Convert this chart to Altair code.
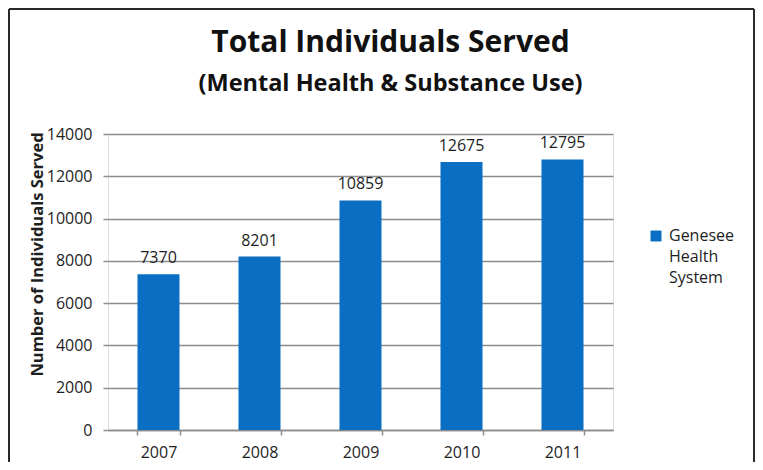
import altair as alt
import pandas as pd

years = ["2007", "2008", "2009", "2010", "2011"]
served = [7370, 8201, 10859, 12675, 12795]
series_name = "Genesee Health System"
y_ticks = [0, 2000, 4000, 6000, 8000, 10000, 12000, 14000]

df = pd.DataFrame({"year": years, "served": served, "series": [series_name] * len(years)})
frame_df = pd.DataFrame({"k": [0]})

W, H = 505, 296
FONT = "Open Sans"
GRID = "#8c8c8c"
TXT = "#1e1e1e"
BLUE = "#0a6fc2"

x_enc = alt.X(
    "year:N", sort=years, title=None,
    scale=alt.Scale(paddingInner=0.584, paddingOuter=0.292),
    axis=alt.Axis(labelAngle=0, tickBand="extent", domainColor=GRID, domainWidth=1.5,
                  tickColor=GRID, tickWidth=1.5, tickSize=5, labelPadding=9,
                  labelFont=FONT, labelFontSize=16, labelColor=TXT, grid=False),
)
y_enc = alt.Y(
    "served:Q", scale=alt.Scale(domain=[0, 14000], nice=False),
    axis=alt.Axis(values=y_ticks, format="d", grid=True, gridColor=GRID, gridWidth=1.5,
                  domain=False, tickColor=GRID, tickWidth=1.5, tickSize=5, labelPadding=11,
                  labelFont=FONT, labelFontSize=16, labelColor=TXT,
                  title="Number of Individuals Served", titleFont=FONT, titleFontSize=16.5,
                  titleFontWeight="bold", titleColor=TXT, titleAngle=270,
                  titleAlign="center", titleBaseline="middle", titleX=-71, titleY=120),
)

bars = alt.Chart(df).mark_bar().encode(
    x=x_enc, y=y_enc,
    color=alt.Color("series:N", scale=alt.Scale(range=[BLUE]),
                    legend=alt.Legend(orient="none", legendX=540, legendY=94, title=None,
                                      labelExpr="split(datum.label, ' ')",
                                      labelFont=FONT, labelFontSize=16, labelColor=TXT,
                                      labelBaseline="middle", labelOffset=5,
                                      symbolType="square", symbolSize=121,
                                      symbolStrokeWidth=0, padding=0)),
)

labels = alt.Chart(df).mark_text(dy=-11, baseline="alphabetic", font=FONT, fontSize=16,
                                 color=TXT).encode(
    x=alt.X("year:N", sort=years), y="served:Q", text=alt.Text("served:Q", format="d"))

frame_color = "#2a2a2a"
left = alt.Chart(frame_df).mark_rule(color=frame_color, strokeWidth=2).encode(
    x=alt.value(-99), y=alt.value(-125), y2=alt.value(H + 40))
top = alt.Chart(frame_df).mark_rule(color=frame_color, strokeWidth=2).encode(
    x=alt.value(-99), x2=alt.value(646), y=alt.value(-125))
right = alt.Chart(frame_df).mark_rule(color=frame_color, strokeWidth=2).encode(
    x=alt.value(646), y=alt.value(-125), y2=alt.value(H + 40))

chart = alt.layer(bars, labels, left, top, right).properties(
    width=W, height=H,
    autosize=alt.AutoSizeParams(type="none"),
    padding={"left": 100, "top": 126, "right": 142, "bottom": 32},
    title=alt.TitleParams(
        text="Total Individuals Served",
        subtitle="(Mental Health & Substance Use)",
        font=FONT, fontSize=30, fontWeight="bold", color="#111111",
        subtitleFont=FONT, subtitleFontSize=23.5, subtitleFontWeight="bold",
        subtitleColor="#111111", anchor="middle", dx=30, offset=-87, subtitlePadding=14),
).configure_view(stroke=None).configure(
    background="white", style={"guide-label": {"lineHeight": 21}})

chart.save("out.html", embed_options={"renderer": "svg", "actions": False})
